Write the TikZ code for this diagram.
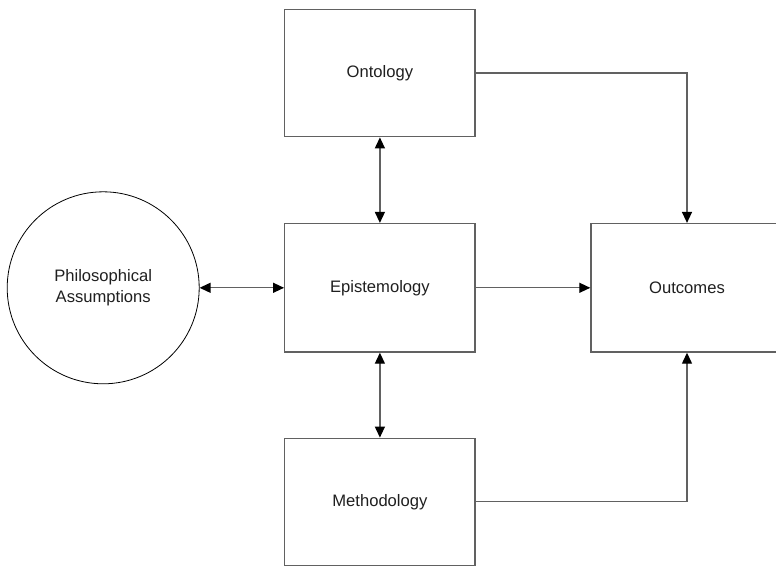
\documentclass[tikz,border=0pt]{standalone}
\usepackage{fontspec}
\setmainfont{Liberation Sans}
\usetikzlibrary{arrows.meta}
\begin{document}
\begin{tikzpicture}[x=1pt,y=-1pt,
  every node/.style={font=\fontsize{16.6}{21.7}\selectfont, text=black!88, align=center},
  box/.style={draw=black!62, line width=1.4pt, rectangle, inner sep=0pt},
  circ/.style={draw=black, line width=0.8pt, circle, inner sep=0pt},
  link/.style={draw=black!62, line width=1.3pt},
  tip/.style={-{Triangle[length=11pt,width=10pt,color=black]}},
  twotip/.style={{Triangle[length=11pt,width=10pt,color=black]}-{Triangle[length=11pt,width=10pt,color=black]}}
]
\useasboundingbox (0,0) rectangle (776,565);
\clip (0,0) rectangle (776,565);

% boxes
\node[box, minimum width=190.3pt, minimum height=127.4pt] (ont) at (379.9,73.0) {Ontology};
\node[box, minimum width=190.3pt, minimum height=128.4pt] (epi) at (379.9,287.8) {Epistemology};
\node[box, minimum width=190.3pt, minimum height=127.0pt] (meth) at (379.9,501.8) {Methodology};
\node[box, minimum width=192pt, minimum height=128.4pt] (out) at (687.0,287.8) {Outcomes};
\node[circ, minimum size=192pt] (phil) at (103.2,287.8) {Philosophical\\Assumptions};

% connectors
\draw[link, twotip] (ont.south) -- (epi.north);
\draw[link, twotip] (epi.south) -- (meth.north);
\draw[link, twotip] (phil.east) -- (epi.west);
\draw[link, tip] (epi.east) -- (out.west);
\draw[link, tip] (ont.east) -| (out.north);
\draw[link, tip] (meth.east) -| (out.south);
\end{tikzpicture}
\end{document}
